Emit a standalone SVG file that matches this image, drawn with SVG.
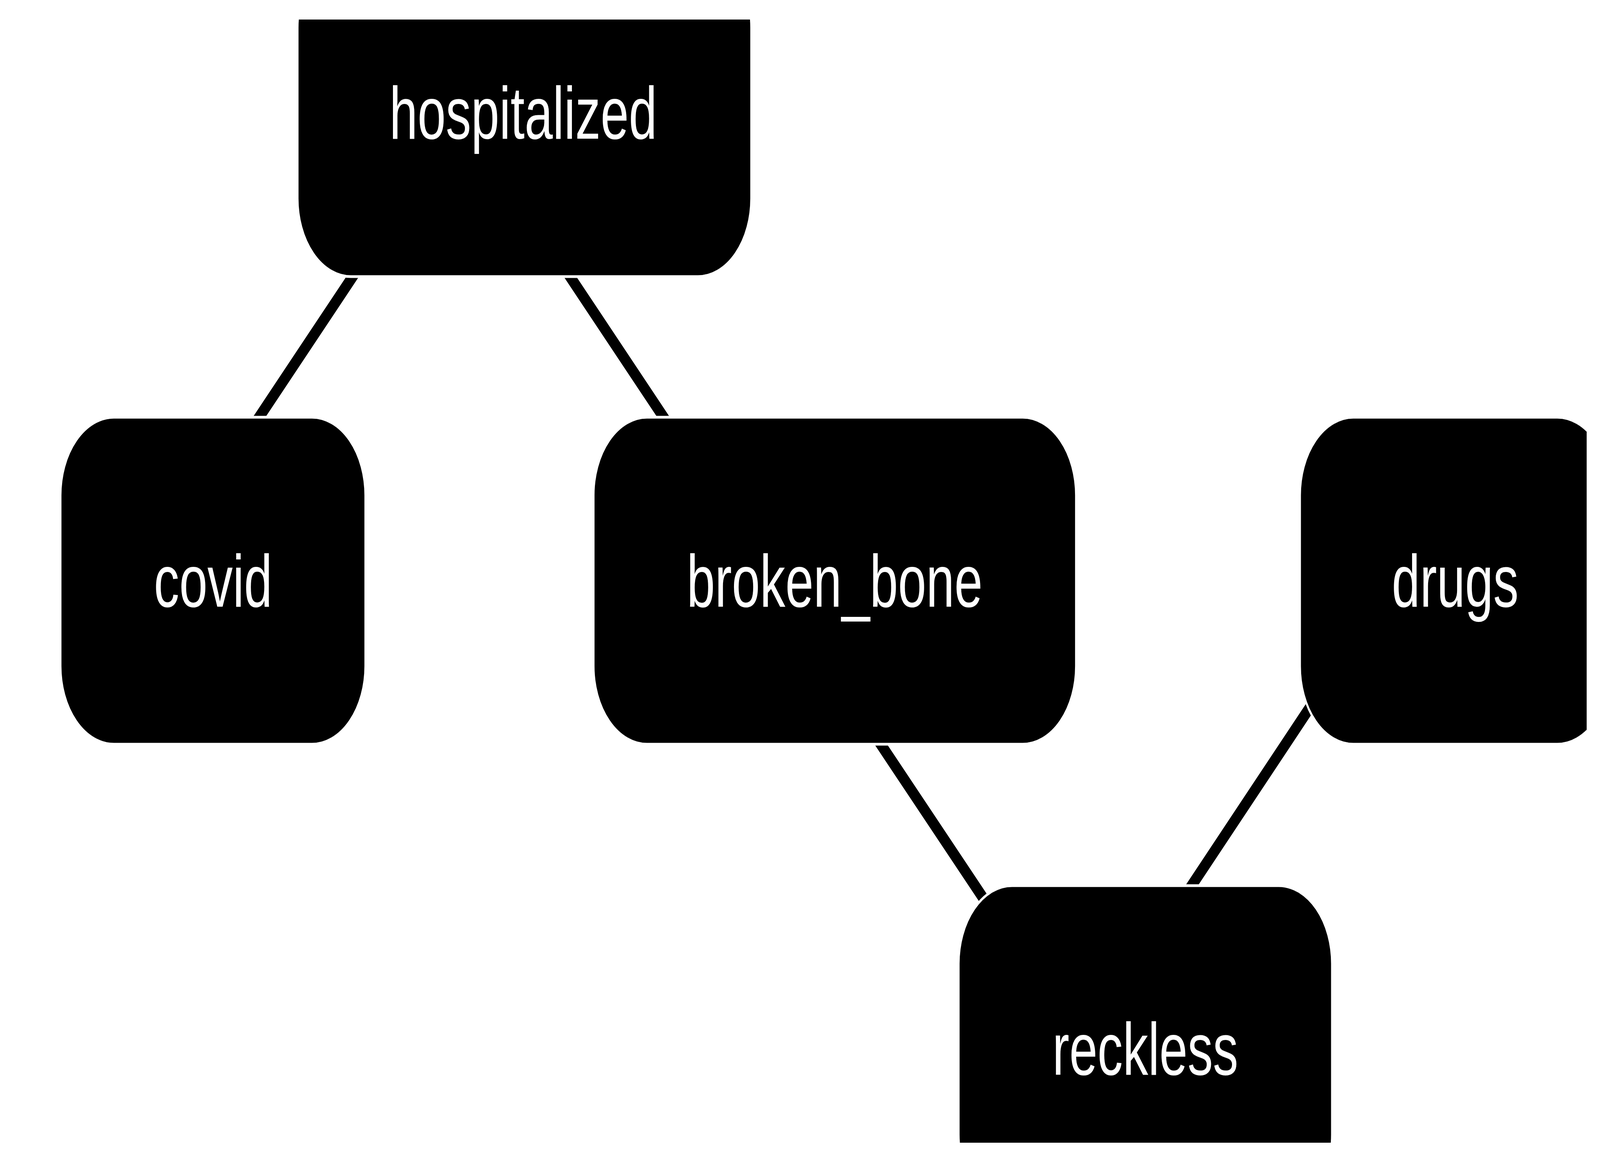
<svg xmlns="http://www.w3.org/2000/svg" width="6000" height="3000" viewBox="0 0 6000 3000" preserveAspectRatio="none" style="width:100vw;height:100vh;display:block">
  <defs>
    <clipPath id="view">
      <rect x="50" y="50" width="5900" height="2875"/>
    </clipPath>
  </defs>
  <style>
    .node rect { fill: #000000; stroke: #ffffff; stroke-width: 7; }
    .node text { fill: #ffffff; font-family: "Liberation Sans", Arial, sans-serif; font-size: 190px; text-anchor: middle; }
    .edge { stroke: #000000; stroke-width: 34; fill: none; stroke-linecap: butt; }
  </style>
  <rect x="0" y="0" width="6000" height="3000" fill="#ffffff"/>
  <g clip-path="url(#view)">
    <g id="connectors">
      <line class="edge" x1="1379" y1="650" x2="921" y2="1120"/>
      <line class="edge" x1="2081" y1="650" x2="2539" y2="1120"/>
      <line class="edge" x1="3249" y1="1850" x2="3737" y2="2350"/>
      <line class="edge" x1="4942" y1="1780" x2="4417" y2="2320"/>
    </g>
    <g id="node-hospitalized" class="node">
      <rect x="1116" y="-129" width="1701" height="837" rx="200" ry="200"/>
      <text x="1962" y="355">hospitalized</text>
    </g>
    <g id="node-covid" class="node">
      <rect x="227" y="1068" width="1143" height="837" rx="200" ry="200"/>
      <text x="799" y="1553">covid</text>
    </g>
    <g id="node-broken_bone" class="node">
      <rect x="2226" y="1068" width="1809" height="837" rx="200" ry="200"/>
      <text x="3130" y="1553">broken_bone</text>
    </g>
    <g id="node-drugs" class="node">
      <rect x="4875" y="1068" width="1165" height="837" rx="200" ry="200"/>
      <text x="5457" y="1553">drugs</text>
    </g>
    <g id="node-reckless" class="node">
      <rect x="3595" y="2267" width="1400" height="837" rx="200" ry="200"/>
      <text x="4295" y="2751">reckless</text>
    </g>
  </g>
</svg>
